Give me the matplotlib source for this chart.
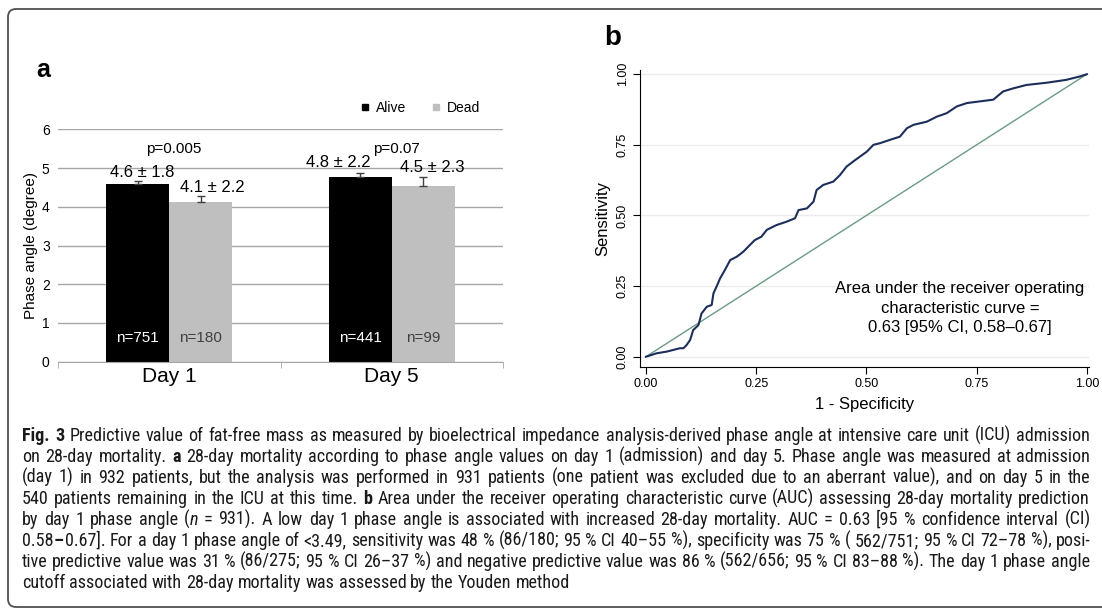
"""Fig. 3: phase angle bars (a) and ROC curve (b) with caption."""

import matplotlib

matplotlib.use("Agg")
import matplotlib.pyplot as plt  # noqa: E402
import numpy as np  # noqa: E402
from matplotlib import font_manager  # noqa: E402
from matplotlib.lines import Line2D  # noqa: E402
from matplotlib.patches import FancyBboxPatch  # noqa: E402
from matplotlib.transforms import IdentityTransform  # noqa: E402

# ---- panel a data
days = ["Day 1", "Day 5"]
groups = ["Alive", "Dead"]
alive_mean = [4.60, 4.76]
dead_mean = [4.12, 4.54]
alive_err = [0.06, 0.11]
dead_err = [0.15, 0.24]
alive_text = ["4.6 \u00b1 1.8", "4.8 \u00b1 2.2"]
dead_text = ["4.1 \u00b1 2.2", "4.5 \u00b1 2.3"]
alive_n = [751, 441]
dead_n = [180, 99]
p_text = ["p=0.005", "p=0.07"]
y_ticks_a = [0, 1, 2, 3, 4, 5, 6]

# ---- panel b data (ROC curve)
fpr = [0.000, 0.024, 0.047, 0.077, 0.085, 0.092, 0.100, 0.107, 0.119, 0.126,
       0.138, 0.149, 0.153, 0.160, 0.168, 0.179, 0.191, 0.206, 0.221, 0.236,
       0.247, 0.262, 0.274, 0.296, 0.319, 0.338, 0.346, 0.365, 0.380, 0.387,
       0.402, 0.425, 0.440, 0.455, 0.470, 0.485, 0.501, 0.516, 0.531, 0.554,
       0.576, 0.592, 0.607, 0.637, 0.660, 0.682, 0.705, 0.728, 0.758, 0.788,
       0.810, 0.833, 0.863, 0.909, 0.953, 0.984, 1.000]
tpr = [0.000, 0.012, 0.018, 0.030, 0.030, 0.041, 0.059, 0.094, 0.112, 0.153,
       0.177, 0.183, 0.224, 0.248, 0.277, 0.307, 0.342, 0.354, 0.372, 0.396,
       0.413, 0.425, 0.449, 0.466, 0.478, 0.490, 0.519, 0.525, 0.549, 0.590,
       0.608, 0.620, 0.643, 0.673, 0.691, 0.708, 0.726, 0.750, 0.756, 0.768,
       0.779, 0.809, 0.821, 0.832, 0.850, 0.862, 0.886, 0.898, 0.904, 0.910,
       0.939, 0.950, 0.962, 0.970, 0.980, 0.992, 1.000]
roc_ticks = [0.0, 0.25, 0.5, 0.75, 1.0]
auc_text = ("Area under the receiver operating\n"
            "characteristic curve =\n"
            "0.63 [95% CI, 0.58\u20130.67]")

# ---- caption: words split on spaces, "|" joins pieces, "*" bold, "_" italic
caption = [
    "*Fig. *3  Predictive value of fat-free mass as measured by bioelectrical "
    "impedance analysis-derived phase angle at intensive care unit (ICU) admission",
    "on 28-day mortality. *a 28-day mortality according to phase angle values "
    "on day 1 (admission) and day 5. Phase angle was measured at admission",
    "(day 1) in 932 patients, but the analysis was performed in 931 patients (one patient "
    "was excluded due to an aberrant value), and on day 5 in the",
    "540 patients remaining in the ICU at this time. *b Area under the receiver "
    "operating characteristic curve (AUC) assessing 28-day mortality prediction",
    "by day 1 phase angle (|_n = 931). A low day 1 phase angle is associated with "
    "increased 28-day mortality. AUC = 0.63 [95 % confidence interval (CI)",
    "0.58|*\u2013|0.67]. For a day 1 phase angle of <3.49, sensitivity was 48 % (86/180; 95 % CI "
    "40\u201355 %), specificity was 75 % ( 562/751; 95 % CI 72\u201378 %), posi-",
    "tive predictive value was 31 % (86/275; 95 % CI 26\u201337 %) and negative predictive "
    "value was 86 % (562/656; 95 % CI 83\u201388 %). The day 1 phase angle",
    "cutoff associated with 28-day mortality was assessed by the Youden method",
]


def regular_weight(name):
    found = []
    for f in font_manager.fontManager.ttflist:
        if f.name == name and f.style == "normal":
            w = f.weight if isinstance(f.weight, int) else font_manager.weight_dict.get(f.weight, 400)
            found.append(w)
    light = [w for w in found if w <= 400]
    return max(light) if light else None


cap_family, cap_weight = "Open Sans", 400
for cand in ("Liberation Sans Narrow", "Roboto Condensed", "Open Sans Condensed",
             "Open Sans SemiCondensed", "Open Sans"):
    w = regular_weight(cand)
    if w:
        cap_family, cap_weight = cand, w
        break

plt.rcParams["font.family"] = ["Liberation Sans", "DejaVu Sans"]

W, H = 1102, 613
fig = plt.figure(figsize=(W / 100, H / 100), dpi=100)


def px_axes(left, top, right, bottom):
    return fig.add_axes([left / W, 1 - bottom / H, (right - left) / W, (bottom - top) / H])


# ---------------- panel a
ax = px_axes(58, 129.3, 503, 361.7)
x = np.arange(len(days))
bw = 0.283
grid_c = "#a6a6a6"
ax.set_axisbelow(True)
ax.yaxis.grid(True, color=grid_c, lw=1)
ax.bar(x - bw / 2, alive_mean, bw, color="black", zorder=2)
ax.bar(x + bw / 2, dead_mean, bw, color="#bfbfbf", zorder=2)
ax.errorbar(x - bw / 2, alive_mean, yerr=[np.zeros(2), alive_err], fmt="none",
            ecolor="#404040", elinewidth=1, capsize=3, zorder=3)
ax.errorbar(x + bw / 2, dead_mean, yerr=[np.zeros(2), dead_err], fmt="none",
            ecolor="#404040", elinewidth=1, capsize=3, zorder=3)

alive_dx = [0.02, -0.10]
dead_dx = [0.05, 0.04]
alive_dy = [0.03, 0.08]
for i in range(len(days)):
    ax.text(x[i] - bw / 2 + alive_dx[i], alive_mean[i] + alive_err[i] + alive_dy[i],
            alive_text[i], ha="center", va="bottom", fontsize=12)
    ax.text(x[i] + bw / 2 + dead_dx[i], dead_mean[i] + dead_err[i] + 0.04,
            dead_text[i], ha="center", va="bottom", fontsize=12)
    ax.text(x[i] + 0.02, 5.5, p_text[i], ha="center", va="center", fontsize=11)
    ax.text(x[i] - bw / 2, 0.62, f"n={alive_n[i]}", ha="center", va="center",
            fontsize=11, color="white")
    ax.text(x[i] + bw / 2, 0.62, f"n={dead_n[i]}", ha="center", va="center",
            fontsize=11, color="#404040")

ax.set_xlim(-0.5, 1.5)
ax.set_ylim(0, 6)
ax.set_yticks(y_ticks_a)
ax.tick_params(axis="y", length=0, labelsize=10, pad=6)
ax.set_xticks(x, days)
ax.set_xticks([-0.5, 0.5, 1.5], minor=True)
ax.tick_params(axis="x", which="major", length=0, labelsize=15, pad=4)
ax.tick_params(axis="x", which="minor", length=4, color=grid_c)
for s in ("top", "right", "left"):
    ax.spines[s].set_visible(False)
ax.spines["bottom"].set_color(grid_c)
ax.set_ylabel("Phase angle (degree)", fontsize=11, labelpad=3)
handles = [Line2D([], [], marker="s", ls="none", color=c, markersize=5)
           for c in ("black", "#bfbfbf")]
ax.legend(handles, groups, loc="center right", bbox_to_anchor=(0.96, 1.092), ncol=2,
          frameon=False, handlelength=0.7, handletextpad=0.4, columnspacing=1.8,
          fontsize=10, borderaxespad=0)
fig.text(43 / W, 1 - 70 / H, "a", fontsize=18, fontweight="bold", ha="center", va="center")

# ---------------- panel b
bx = px_axes(640, 70, 1089, 366.7)
bx.plot([0, 1], [0, 1], color="#6c9a84", lw=1)
bx.plot(fpr, tpr, color="#1c2e5a", lw=1.5)
bx.set_xlim(-0.0136, 1.005)
bx.set_ylim(-0.0354, 1.015)
bx.set_xticks(roc_ticks, [f"{t:.2f}" for t in roc_ticks])
bx.set_yticks(roc_ticks, [f"{t:.2f}" for t in roc_ticks])
bx.yaxis.grid(True, color="#ececec", lw=1)
bx.set_axisbelow(True)
bx.tick_params(axis="both", labelsize=9, length=5, pad=3)
plt.setp(bx.get_yticklabels(), rotation=90, va="center")
for s in ("top", "right"):
    bx.spines[s].set_visible(False)
bx.set_xlabel("1 - Specificity", fontsize=12, labelpad=5)
bx.set_ylabel("Sensitivity", fontsize=12, labelpad=5)
bx.text(0.712, 0.172, auc_text, ha="center", va="center", fontsize=12, linespacing=1.35)
fig.text(613 / W, 1 - 38 / H, "b", fontsize=20, fontweight="bold", ha="center", va="center")

# ---------------- caption (justified, last line ragged)
cap_left, cap_width = 22, 1068
base_fs = 10
renderer = fig.canvas.get_renderer()


def piece_style(p):
    if p.startswith("*"):
        return p[1:], {"fontweight": "bold"}
    if p.startswith("_"):
        return p[1:], {"fontstyle": "italic", "fontweight": cap_weight}
    return p, {"fontweight": cap_weight}


line_words = []
for line in caption:
    words = []
    for w in line.split(" "):
        if not w:
            continue
        pieces = []
        for p in w.split("|"):
            txt, kw = piece_style(p)
            t = fig.text(0, 0, txt, fontsize=base_fs, family=cap_family, **kw)
            pieces.append((txt, kw, t.get_window_extent(renderer).width))
            t.remove()
        words.append(pieces)
    line_words.append(words)

space = 0.24 * base_fs * 100 / 72
word_w = [[sum(p[2] for p in w) for w in words] for words in line_words]
natural = [sum(ws) + space * (len(ws) - 1) for ws in word_w]
scale = cap_width / max(natural)
fs = base_fs * scale
for i, (words, ws) in enumerate(zip(line_words, word_w)):
    last = i == len(caption) - 1
    total = sum(ws) * scale
    gap = space * scale if last else (cap_width - total) / (len(ws) - 1)
    xpos = cap_left
    y = 1 - (441 + 21 * i) / H
    for pieces in words:
        for txt, kw, wpx in pieces:
            fig.text(xpos / W, y, txt, fontsize=fs, family=cap_family, va="baseline",
                     ha="left", color="#1a1a1a", **kw)
            xpos += wpx * scale + 0.6
        xpos += gap - 0.6

# rounded frame around the whole figure (runs off the right edge)
frame = FancyBboxPatch((8, 6), 1130, 598, boxstyle="round,pad=0,rounding_size=8",
                       transform=IdentityTransform(), fill=False, ec="#505050", lw=1.3)
fig.patches.append(frame)

fig.savefig("out.png", dpi=100)
plt.close(fig)
